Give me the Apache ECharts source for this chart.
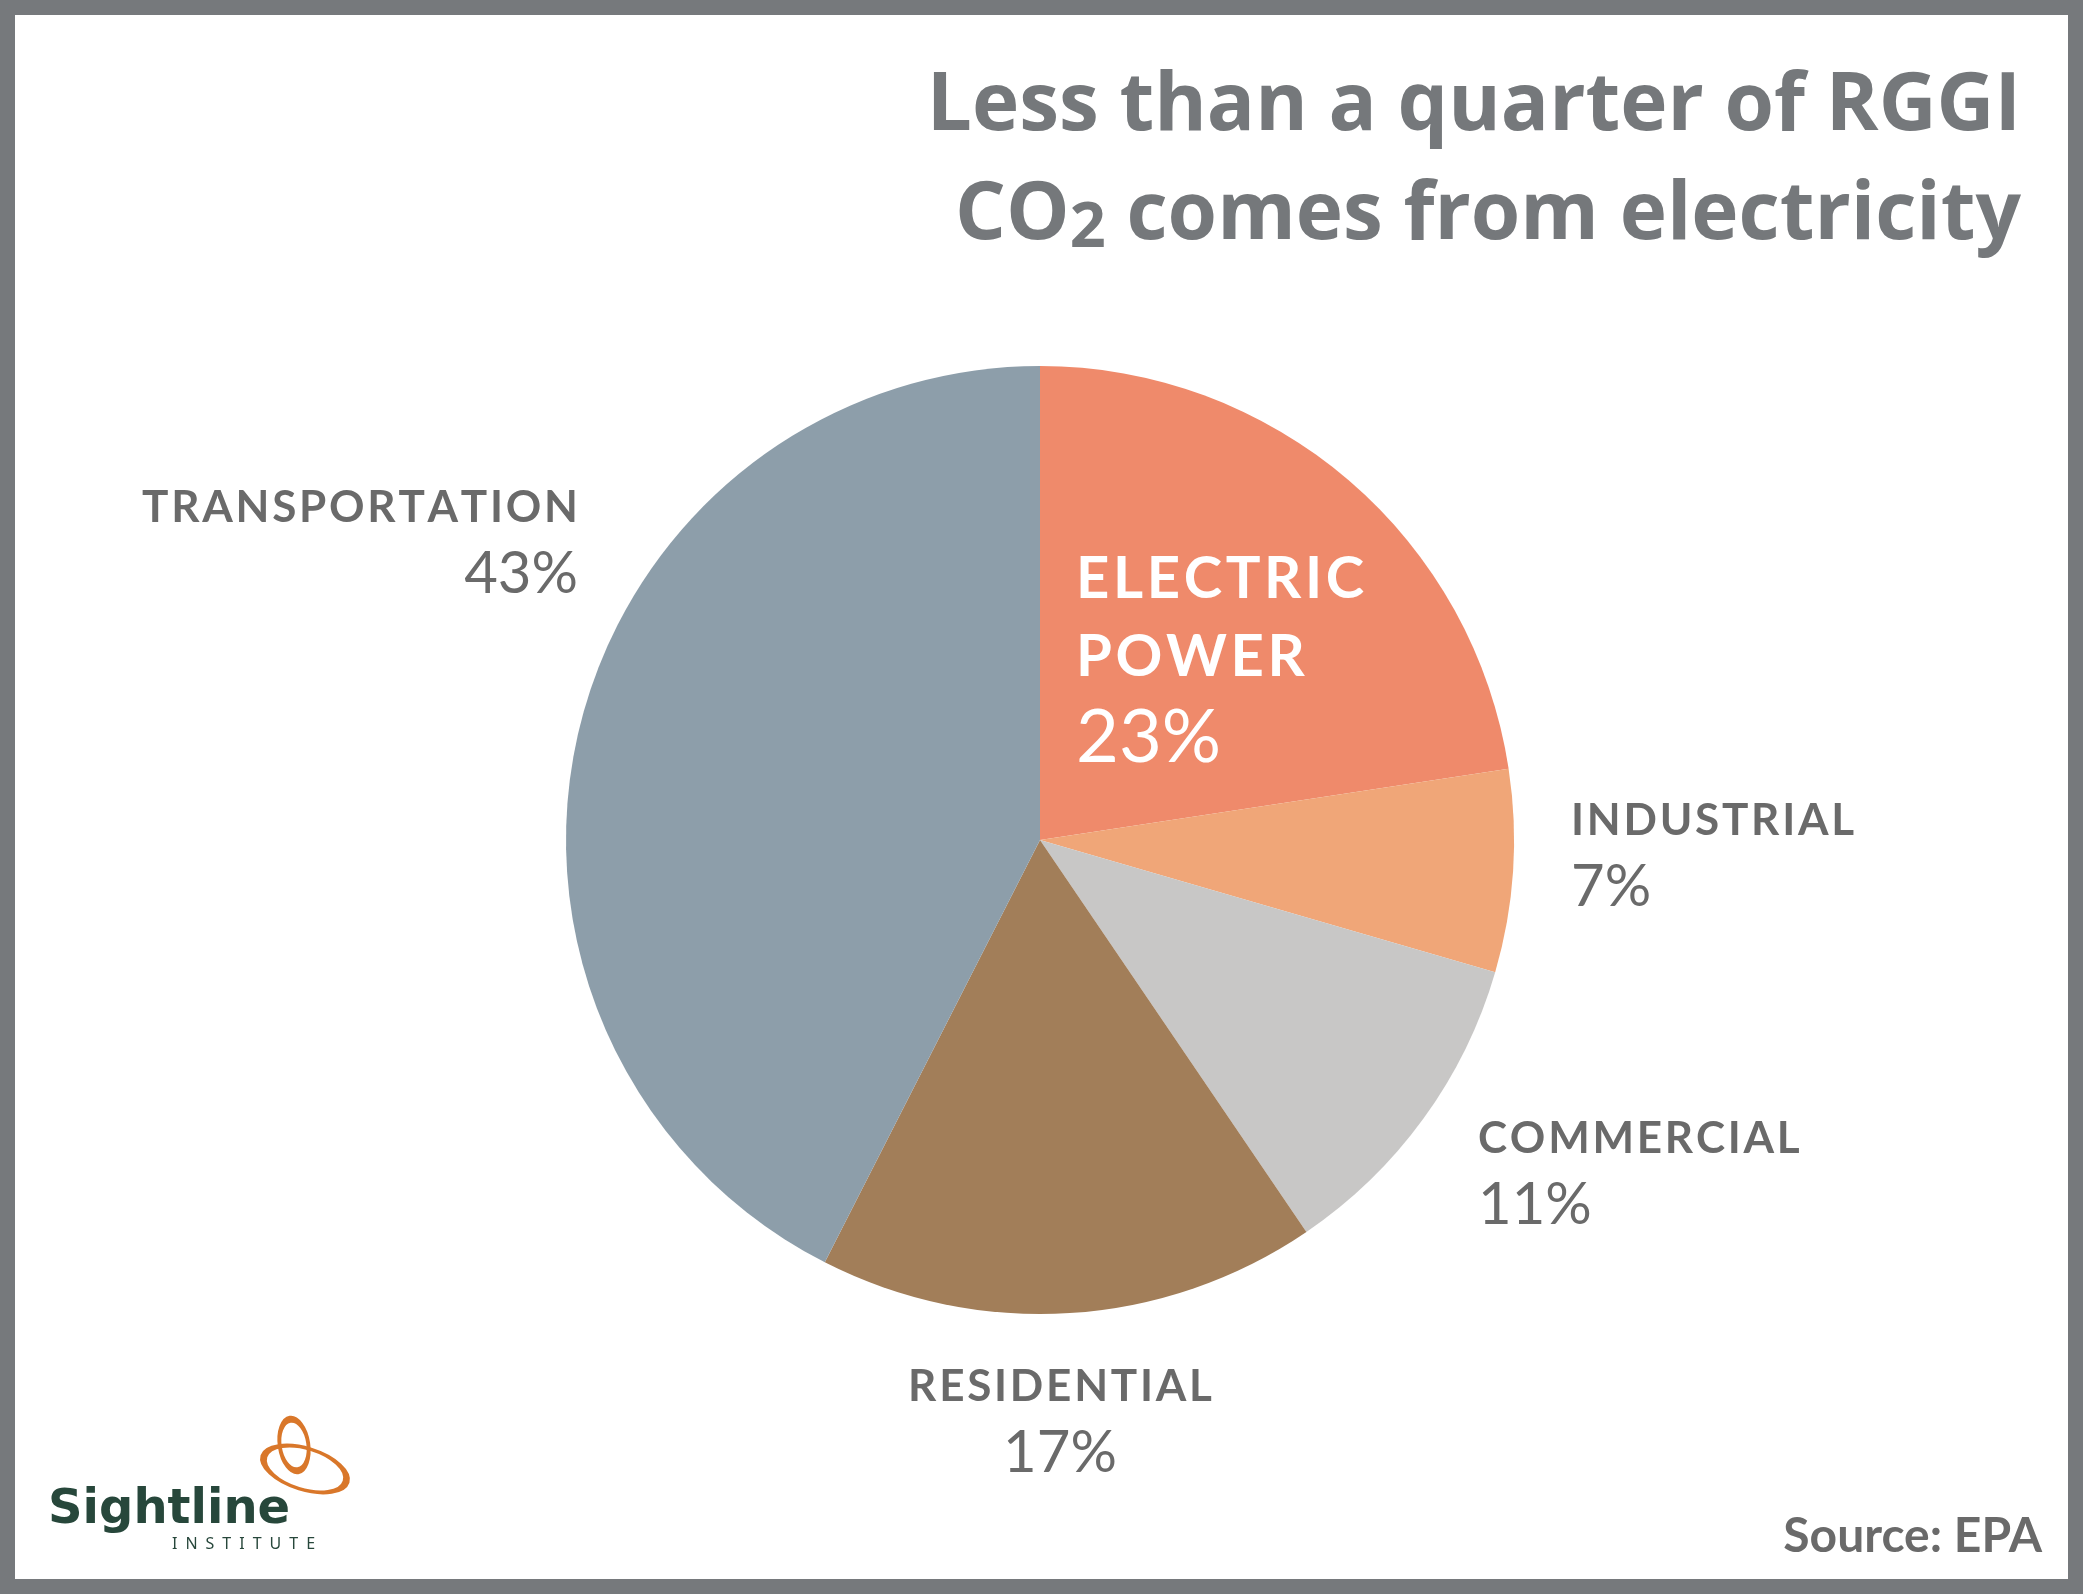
<!DOCTYPE html>
<html>
<head>
<meta charset="utf-8">
<script src="https://cdn.jsdelivr.net/npm/echarts@6/dist/echarts.min.js"></script>
<style>
  html, body { margin: 0; padding: 0; background: #fff; }
  #main { width: 2083px; height: 1594px; }
</style>
</head>
<body>
<div id="main"></div>
<script>
// sectors, clockwise from 12 o'clock
const sectors = ['ELECTRIC POWER', 'INDUSTRIAL', 'COMMERCIAL', 'RESIDENTIAL', 'TRANSPORTATION'];
const shares = [22.6, 6.9, 11.0, 17.0, 42.5];
const colors = ['#ef8a6b', '#f0a678', '#c8c7c6', '#a27e59', '#8d9eaa'];

const FONT = 'Lato';
const TITLE_FONT = 'Open Sans';
const GREY = '#6a6a6a';

// where each label block sits: [x, y of top, align]
const labelPos = [
    [1076, 540, 'left'],
    [1571, 790, 'left'],
    [1478, 1108, 'left'],
    [1060, 1356, 'center'],
    [578, 477, 'right']
];

function spaced(s) {
    return s.split('').join('\u200A');
}

let mainchart = echarts.init(document.getElementById('main'));

let pieData = [];
for (let i = 0; i < sectors.length; i++) {
    pieData.push({
        name: sectors[i],
        value: shares[i],
        itemStyle: { color: colors[i] }
    });
}

let chart_config = {
    backgroundColor: '#ffffff',
    animation: false,
    title: {
        text: '{a|Less than a quarter of RGGI}\n{a|CO}{s|2}{a| comes from electricity}',
        left: 2016,
        top: 48,
        textAlign: 'right',
        textStyle: {
            rich: {
                a: { fontFamily: TITLE_FONT, fontWeight: 'bold', fontSize: 80, lineHeight: 109, color: '#75787b', verticalAlign: 'middle' },
                s: { fontFamily: TITLE_FONT, fontWeight: 'bold', fontSize: 63, lineHeight: 63, color: '#75787b', verticalAlign: 'middle', padding: [26, 0, 0, 0] }
            }
        }
    },
    series: [{
        type: 'pie',
        center: [1040, 840],
        radius: 474,
        startAngle: 90,
        clockwise: true,
        silent: true,
        data: pieData,
        label: {
            show: true,
            position: 'outside',
            formatter: function (p) {
                if (p.dataIndex === 0) {
                    return '{e|' + spaced('ELECTRIC') + '}\n{e|' + spaced('POWER') + '}\n{ep|' + Math.round(p.value) + '%}';
                }
                return '{n|' + spaced(p.name) + '}\n{p|' + Math.round(p.value) + '%}';
            },
            rich: {
                n: { fontFamily: FONT, fontWeight: 'bold', fontSize: 44, lineHeight: 62, color: GREY },
                p: { fontFamily: FONT, fontSize: 58, lineHeight: 70, color: GREY },
                e: { fontFamily: FONT, fontWeight: 'bold', fontSize: 58, lineHeight: 78, color: '#ffffff' },
                ep: { fontFamily: FONT, fontSize: 74, lineHeight: 84, color: '#ffffff' }
            }
        },
        labelLine: { show: false },
        labelLayout: function (params) {
            const pos = labelPos[params.dataIndex];
            return { x: pos[0], y: pos[1], align: pos[2], verticalAlign: 'top' };
        }
    }],
    graphic: [
        {
            type: 'rect',
            shape: { x: 7.5, y: 7.5, width: 2068, height: 1579 },
            style: { fill: null, stroke: '#76797c', lineWidth: 15 },
            silent: true
        },
        {
            type: 'text',
            right: 41,
            top: 1513,
            style: { text: 'Source: EPA', font: 'bold 48px Lato', fill: GREY, textAlign: 'right' }
        },
        // Sightline logo
        {
            type: 'text',
            left: 48,
            top: 1487,
            style: { text: 'Sightline', font: 'bold 48px "DejaVu Sans"', fill: '#27473b' }
        },
        {
            type: 'text',
            left: 172,
            top: 1536,
            style: { text: 'I\u2002N\u2002S\u2002T\u2002I\u2002T\u2002U\u2002T\u2002E', font: '16px "Noto Sans"', fill: '#27473b' }
        },
        {
            type: 'group',
            x: 305,
            y: 1469,
            children: [
                {
                    type: 'circle',
                    shape: { cx: 0, cy: 0, r: 43 },
                    scaleY: 0.48,
                    rotation: -0.3,
                    style: { fill: null, stroke: '#d9772a', lineWidth: 7 }
                },
                {
                    type: 'circle',
                    x: -11,
                    y: -24,
                    shape: { cx: 0, cy: 0, r: 26 },
                    scaleX: 0.55,
                    rotation: 0.15,
                    style: { fill: null, stroke: '#d9772a', lineWidth: 7 }
                }
            ]
        }
    ]
};

mainchart.setOption(chart_config);
</script>
</body>
</html>
